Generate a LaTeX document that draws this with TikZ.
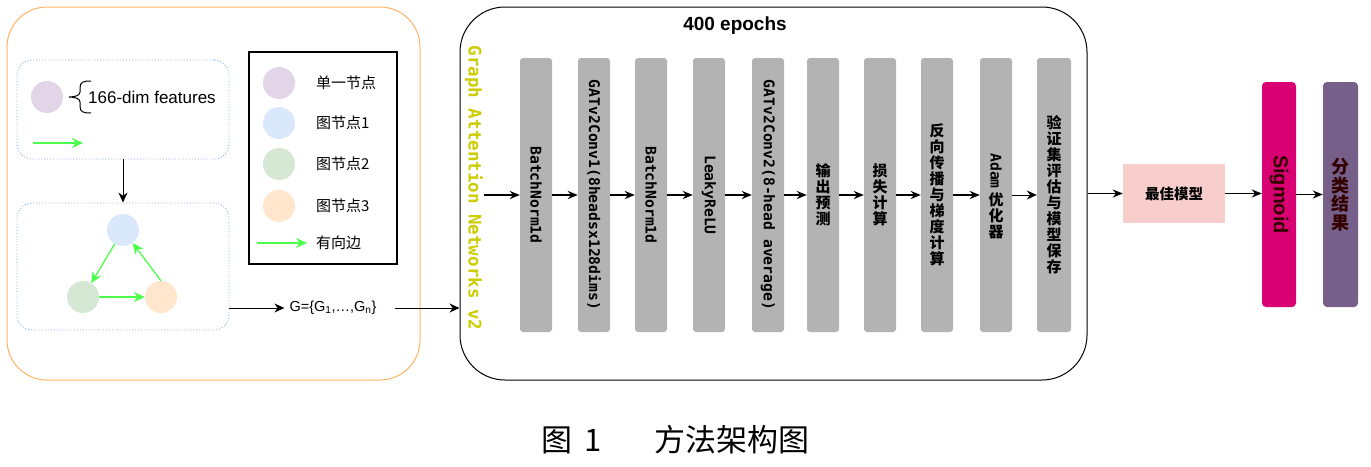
\documentclass[tikz,border=0pt]{standalone}
\usepackage{fontspec}
\setmainfont{Liberation Sans}
\newfontfamily\cjk{Noto Sans CJK SC}
\newfontfamily\monob{DejaVu Sans Mono}
\usetikzlibrary{arrows.meta}
\definecolor{orangeb}{HTML}{FFB366}
\definecolor{dotblue}{HTML}{7EA6E0}
\definecolor{cpurple}{HTML}{E1D5E7}
\definecolor{cblue}{HTML}{DAE8FC}
\definecolor{cgreen}{HTML}{D5E8D4}
\definecolor{corange}{HTML}{FFE6CC}
\definecolor{garrow}{HTML}{4DFF4D}
\definecolor{bargray}{HTML}{B3B3B3}
\definecolor{gatyellow}{HTML}{CCCC00}
\definecolor{bestfill}{HTML}{F8CECC}
\definecolor{sigfill}{HTML}{D80073}
\definecolor{resfill}{HTML}{76608A}
\definecolor{darktext}{HTML}{330000}
\tikzset{
 dotbox/.style={draw=dotblue, dotted, line width=0.9pt, rounded corners=15pt, inner sep=0pt},
 dotc/.style={circle, minimum size=32pt, inner sep=0pt},
 garr/.style={draw=garrow, line width=1.3pt, -{Stealth[length=11pt,width=10pt]}},
 barr/.style={draw=black, line width=1pt, -{Stealth[length=10pt,width=9pt]}},
 tbarr/.style={draw=black, line width=1.6pt, -{Stealth[length=10pt,width=8pt]}},
 graybar/.style={fill=bargray, rounded corners=3pt, minimum width=32pt, minimum height=274pt, inner sep=0pt},
 bartxt/.style={rotate=-90, inner sep=0pt, font=\monob\bfseries\fontsize{14.7}{16}\selectfont},
 cjkv/.style={align=center, inner sep=0pt, font=\cjk\bfseries\fontsize{15}{16}\selectfont},
 legtxt/.style={anchor=west, inner sep=0pt, font=\cjk\fontsize{15}{18}\selectfont},
}
\begin{document}
\begin{tikzpicture}[x=1pt,y=-1pt]
\useasboundingbox (0,0) rectangle (1371,466);
% left container
\node[draw=orangeb, line width=1pt, rounded corners=40pt, minimum width=413pt, minimum height=373pt, inner sep=0pt] (outer) at (213.5,193.5) {};
\node[dotbox, minimum width=212pt, minimum height=99pt] (topbox) at (123,109.5) {};
\node[dotbox, minimum width=212pt, minimum height=127pt] (botbox) at (123,266.5) {};
% top box content
\node[dotc, fill=cpurple] (single) at (47,97) {};
\draw[line width=1pt] (91,81) .. controls (83,81) and (80,82) .. (80,88) -- (80,92) .. controls (80,95) and (76,97) .. (69,97) .. controls (76,97) and (80,99) .. (80,102) -- (80,106) .. controls (80,112) and (83,113) .. (91,113);
\node[anchor=west, inner sep=0pt, font=\fontsize{17}{20}\selectfont] (feat) at (88,97) {166-dim features};
\coordinate (ga1) at (33,143);
\coordinate (ga2) at (83,143);
\draw[garr] (ga1) -- (ga2);
\draw[barr] (topbox.south) -- (botbox.north);
% graph
\node[dotc, fill=cblue] (n1) at (123,230) {};
\node[dotc, fill=cgreen] (n2) at (83,297) {};
\node[dotc, fill=corange] (n3) at (161,297) {};
\draw[garr] (n1) -- (n2);
\draw[garr] (n2) -- (n3);
\draw[garr] (n3.north) -- (n1);
% legend
\node[draw=black, line width=1.4pt, minimum width=148pt, minimum height=212pt, inner sep=0pt] (legend) at (323,158) {};
\node[dotc, fill=cpurple] (l1) at (279,83) {};
\node[dotc, fill=cblue] (l2) at (279,123) {};
\node[dotc, fill=cgreen] (l3) at (279,164) {};
\node[dotc, fill=corange] (l4) at (279,206) {};
\node[legtxt] (lt1) at (316,83) {单一节点};
\node[legtxt] (lt2) at (316,123) {图节点1};
\node[legtxt] (lt3) at (316,164) {图节点2};
\node[legtxt] (lt4) at (316,206) {图节点3};
\coordinate (la1) at (257,243);
\coordinate (la2) at (307,243);
\draw[garr] (la1) -- (la2);
\node[legtxt] (lt5) at (316,243) {有向边};
% G set
\node[inner sep=0pt, font=\fontsize{14.5}{16}\selectfont] (gset) at (333,308) {G=\{G\textsubscript{1},…,G\textsubscript{n}\}};
\coordinate (bbout) at (229,308);
\draw[barr] (bbout) -- ([xshift=-5pt]gset.west);
% main box
\node[draw=black, line width=1pt, rounded corners=45pt, minimum width=627pt, minimum height=373pt, inner sep=0pt] (main) at (773.5,193.5) {};
\coordinate (mainin) at (main.west |- gset.east);
\draw[barr] (gset.east) ++(18,0) coordinate (gsout) -- (mainin);
\node[inner sep=0pt, font=\bfseries\fontsize{19}{22}\selectfont] (epochs) at (735,26) {400 epochs};
\node[rotate=-90, inner sep=0pt, text=gatyellow, font=\monob\bfseries\fontsize{17.5}{20}\selectfont] (gatn) at (474,188) {Graph Attention Networks v2};
% bars
\node[graybar] (b1) at (536,195) {};
\node[graybar] (b2) at (594,195) {};
\node[graybar] (b3) at (651,195) {};
\node[graybar] (b4) at (709,195) {};
\node[graybar] (b5) at (768,195) {};
\node[graybar] (b6) at (823,195) {};
\node[graybar] (b7) at (880,195) {};
\node[graybar] (b8) at (937,195) {};
\node[graybar] (b9) at (996,195) {};
\node[graybar, minimum width=34pt] (b10) at (1054,195) {};
\node[bartxt] (t1) at (b1.center) {BatchNorm1d};
\node[bartxt] (t2) at (b2.center) {GATv2Conv1(8headsx128dims)};
\node[bartxt] (t3) at (b3.center) {BatchNorm1d};
\node[bartxt] (t4) at (b4.center) {LeakyReLU};
\node[bartxt] (t5) at (b5.center) {GATv2Conv2(8-head average)};
\node[cjkv] (t6) at (b6.center) {输\\出\\预\\测};
\node[cjkv] (t7) at (b7.center) {损\\失\\计\\算};
\node[cjkv] (t8) at (b8.center) {反\\向\\传\\播\\与\\梯\\度\\计\\算};
\node[bartxt] (t9a) at (996,171) {Adam};
\node[cjkv] (t9b) at (996,216) {优\\化\\器};
\node[cjkv] (t10) at (b10.center) {验\\证\\集\\评\\估\\与\\模\\型\\保\\存};
\coordinate (gin) at (484,195);
\draw[tbarr] (gin) -- (b1.west);
\draw[tbarr] (b1.east) -- (b2.west);
\draw[tbarr] (b2.east) -- (b3.west);
\draw[tbarr] (b3.east) -- (b4.west);
\draw[tbarr] (b4.east) -- (b5.west);
\draw[tbarr] (b5.east) -- (b6.west);
\draw[tbarr] (b6.east) -- (b7.west);
\draw[tbarr] (b7.east) -- (b8.west);
\draw[tbarr] (b8.east) -- (b9.west);
\draw[barr] (b9.east) -- (b10.west);
% right part
\node[fill=bestfill, minimum width=102pt, minimum height=59pt, inner sep=0pt, font=\cjk\bfseries\fontsize{14.5}{16}\selectfont] (best) at (1174,193.5) {最佳模型};
\node[fill=sigfill, rounded corners=4pt, minimum width=34pt, minimum height=225pt, inner sep=0pt] (sig) at (1279,194.5) {};
\node[rotate=-90, inner sep=0pt, text=darktext, font=\bfseries\fontsize{20}{22}\selectfont] (sigt) at (sig.center) {Sigmoid};
\node[fill=resfill, rounded corners=4pt, minimum width=35pt, minimum height=225pt, inner sep=0pt] (res) at (1340.5,194.5) {};
\node[align=center, inner sep=0pt, text=darktext, font=\cjk\bfseries\fontsize{18}{18.5}\selectfont] (rest) at (res.center) {分\\类\\结\\果};
\draw[tbarr] (main.east) -- (best.west);
\draw[tbarr] (best.east) -- (best.east -| sig.west);
\draw[tbarr] (sig.east) -- (sig.east -| res.west);
% caption
\node[inner sep=0pt, font=\cjk\fontsize{31}{31}\selectfont] (cap1) at (572,440) {图\hspace{12pt}1};
\node[inner sep=0pt, font=\cjk\fontsize{31}{31}\selectfont] (cap2) at (732,440) {方法架构图};
\end{tikzpicture}
\end{document}
